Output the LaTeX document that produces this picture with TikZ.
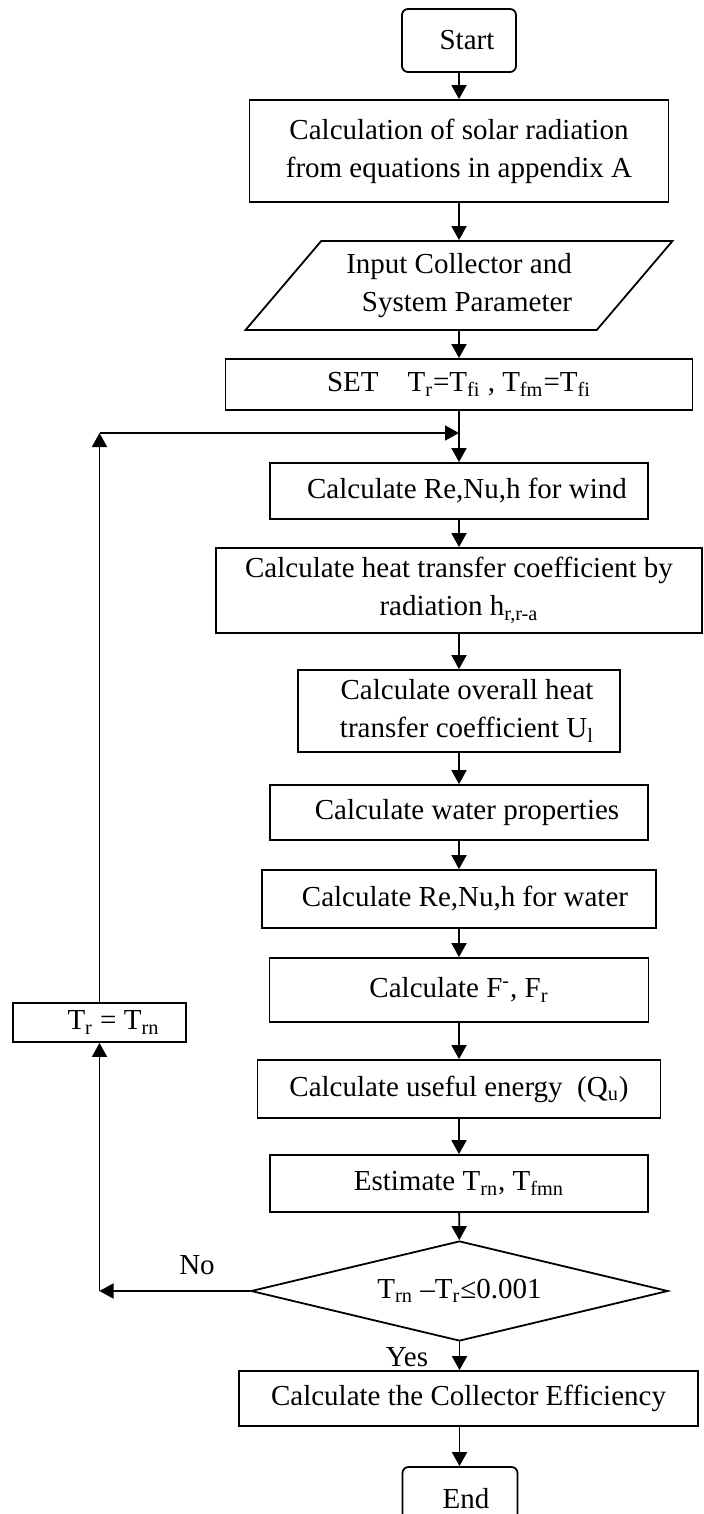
\documentclass[tikz,border=0pt]{standalone}
\usepackage{fontspec}
\setmainfont{Liberation Serif}
\usetikzlibrary{shapes.geometric,arrows.meta}

\tikzset{
	flow/.style={draw, line width=0.9pt, inner sep=0pt, align=center, font=\fontsize{14.5}{19}\selectfont},
	term/.style={flow, rounded corners=3pt},
	lbl/.style={font=\fontsize{14.5}{19}\selectfont},
}

\begin{document}
\begin{tikzpicture}[x=0.5pt, y=-0.5pt, line width=0.9pt, >={Triangle[length=7pt,width=7.5pt]}]
	\useasboundingbox (0,0) rectangle (703,1514);
	\clip (0,0) rectangle (703,1514);

	\node[term, minimum width=57pt, minimum height=31.5pt] (start) at (459,40.5) {\hspace*{8pt}Start};
	\node[flow, minimum width=209.5pt, minimum height=51pt] (calc1) at (459,151) {Calculation of solar radiation\\from equations in appendix A};
	\node[flow, trapezium, trapezium left angle=46, trapezium right angle=134, trapezium stretches=true, minimum width=214pt, minimum height=44.5pt] (input) at (459,285.5) {Input Collector and\\\hspace*{8pt}System Parameter};
	\node[flow, minimum width=233.5pt, minimum height=25.5pt] (set) at (459,384.5) {SET\quad T\textsubscript{r}=T\textsubscript{fi} , T\textsubscript{fm}=T\textsubscript{fi}};
	\node[flow, minimum width=189pt, minimum height=28pt] (wind) at (459,491) {\hspace*{8pt}Calculate Re,Nu,h for wind};
	\node[flow, minimum width=243pt, minimum height=42.5pt] (heat) at (459,590.5) {Calculate heat transfer coefficient by\\radiation h\textsubscript{r,r-a}};
	\node[flow, minimum width=161pt, minimum height=41pt] (overall) at (459,711) {\hspace*{8pt}Calculate overall heat\\\hspace*{8pt}transfer coefficient U\textsubscript{l}};
	\node[flow, minimum width=189pt, minimum height=27.5pt] (wprop) at (459,812.5) {\hspace*{8pt}Calculate water properties};
	\node[flow, minimum width=197pt, minimum height=29pt] (wre) at (459,899) {\hspace*{6pt}Calculate Re,Nu,h for water};
	\node[flow, minimum width=189.5pt, minimum height=32pt] (fcoef) at (459,990) {Calculate F\textsuperscript{-}, F\textsubscript{r}};
	\node[flow, minimum width=201.5pt, minimum height=29pt] (useful) at (459,1089) {Calculate useful energy\enspace(Q\textsubscript{u})};
	\node[flow, minimum width=189pt, minimum height=28.5pt] (estim) at (459,1183.5) {Estimate T\textsubscript{rn}, T\textsubscript{fmn}};
	\node[flow, diamond, aspect=4.17, minimum width=208.5pt, minimum height=50pt] (dec) at (459.5,1291) {T\textsubscript{rn} –T\textsubscript{r}≤0.001};
	\node[flow, minimum width=229.5pt, minimum height=27.5pt] (coll) at (468.5,1398.5) {Calculate the Collector Efficiency};
	\node[term, minimum width=57.5pt, minimum height=31.5pt] (endn) at (460,1498.5) {\hspace*{6pt}End};
	\node[flow, minimum width=86.5pt, minimum height=19.5pt] (trbox) at (99.5,1022.5) {\hspace*{14pt}T\textsubscript{r} = T\textsubscript{rn}};

	\node[lbl] (no) at (197,1265) {No};
	\node[lbl] (yes) at (407,1357) {Yes};

	\coordinate (join) at (459,433);
	\coordinate (corner) at (trbox.north |- join);
	\coordinate (back) at (dec.west -| trbox.south);

	\draw[->] (start) -- (calc1);
	\draw[->] (calc1) -- (input);
	\draw[->] (input) -- (set);
	\draw (set) -- (join);
	\draw[->] (join) -- (wind);
	\draw[->] (wind) -- (heat);
	\draw[->] (heat) -- (overall);
	\draw[->] (overall) -- (wprop);
	\draw[->] (wprop) -- (wre);
	\draw[->] (wre) -- (fcoef);
	\draw[->] (fcoef) -- (useful);
	\draw[->] (useful) -- (estim);
	\draw[->] (estim) -- (dec);
	\draw[->] (dec.south) -- (dec.south |- coll.north);
	\draw[->] (dec.south |- coll.south) -- (dec.south |- endn.north);

	\draw[->] (dec.west) -- (back);
	\draw[->] (back) -- (trbox.south);
	\draw[->] (trbox.north) -- (corner);
	\draw[->] (corner) -- (join);
\end{tikzpicture}
\end{document}
